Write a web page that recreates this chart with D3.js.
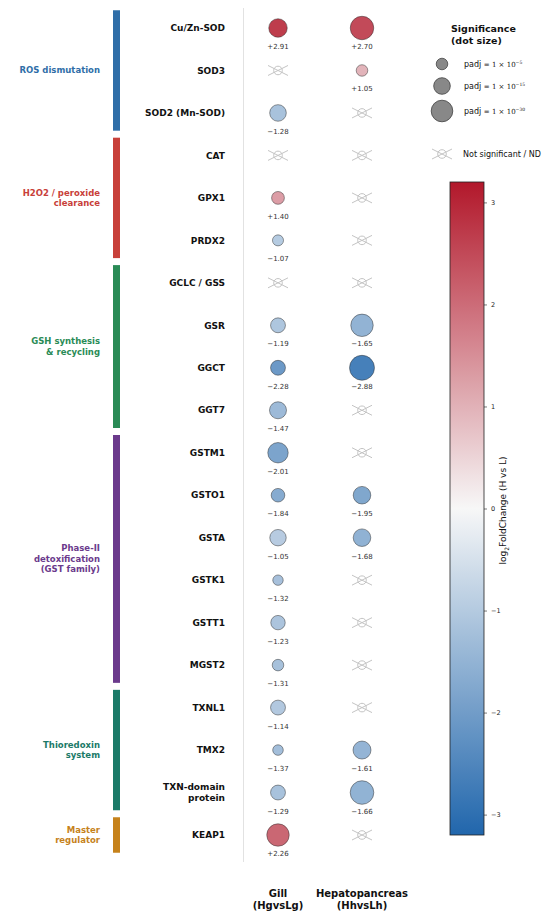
<!DOCTYPE html>
<html>
<head>
<meta charset="utf-8">
<script src="https://cdn.jsdelivr.net/npm/d3@7"></script>
<style>
body { margin: 0; background: #fff; }
svg { display: block; font-family: "DejaVu Sans", sans-serif; }
</style>
</head>
<body>
<svg id="chart" width="550" height="921"></svg>
<script>
// genes, top to bottom
var genes = ["Cu/Zn-SOD", "SOD3", "SOD2 (Mn-SOD)", "CAT", "GPX1", "PRDX2",
	"GCLC / GSS", "GSR", "GGCT", "GGT7", "GSTM1", "GSTO1", "GSTA", "GSTK1",
	"GSTT1", "MGST2", "TXNL1", "TMX2", "TXN-domain protein", "KEAP1"];

// log2 fold change (null = not significant / ND)
var gillLFC = [2.91, null, -1.28, null, 1.40, -1.07, null, -1.19, -2.28, -1.47,
	-2.01, -1.84, -1.05, -1.32, -1.23, -1.31, -1.14, -1.37, -1.29, 2.26];
var hepLFC = [2.70, 1.05, null, null, null, null, null, -1.65, -2.88, null,
	null, -1.95, -1.68, null, null, null, null, -1.61, -1.66, null];

// -log10(padj)
var gillSig = [20, null, 15, null, 7, 4.3, null, 11, 11, 16,
	26, 8.4, 14.5, 3.5, 10, 5, 11, 3.7, 11, 33];
var hepSig = [37, 5, null, null, null, null, null, 33, 43, null,
	null, 17.5, 17.5, null, null, null, null, 18.6, 37.5, null];

var columns = ["Gill", "Hepatopancreas"];
var columnSub = ["(HgvsLg)", "(HhvsLh)"];

// functional groups
var groupNames = [["ROS dismutation"], ["H2O2 / peroxide", "clearance"],
	["GSH synthesis", "& recycling"], ["Phase-II", "detoxification", "(GST family)"],
	["Thioredoxin", "system"], ["Master", "regulator"]];
var groupFirst = [0, 3, 6, 10, 16, 19];
var groupLast = [2, 5, 9, 15, 18, 19];
var groupColors = ["#2f6ea8", "#c8403a", "#2a8b56", "#6b3a8c", "#1b7a68", "#c6821b"];

var legendSig = [5, 15, 30];
var legendExp = ["−5", "−15", "−30"];
var cbTicks = [-3, -2, -1, 0, 1, 2, 3];

var svg = d3.select("#chart");

// scales
var y = d3.scalePoint().domain(genes).range([28, 835]);
var step = y.step();
var x = d3.scalePoint().domain(columns).range([278, 362]);
var color = d3.scaleLinear().domain([-3.2, 0, 3.2]).range(["#2166ac", "#f7f7f7", "#b2182b"]);
var size = d3.scaleSqrt().domain([0, 30]).range([2.3, 10.8]);

function fmt(v) {
	return (v > 0 ? "+" : "\u2212") + Math.abs(v).toFixed(2);
}

// separator line
svg.append("line")
	.attr("x1", 243.5).attr("x2", 243.5)
	.attr("y1", 8).attr("y2", 862)
	.attr("stroke", "#e2e2e2")
	.attr("stroke-width", 1);

// group bars and labels
var grp = svg.append("g")
	.selectAll("g")
	.data(groupNames)
	.enter()
	.append("g");

grp.append("rect")
	.attr("x", 113)
	.attr("width", 7)
	.attr("y", function(d, i) { return y(genes[groupFirst[i]]) - step / 2 + 3.5; })
	.attr("height", function(d, i) { return y(genes[groupLast[i]]) - y(genes[groupFirst[i]]) + step - 7; })
	.attr("fill", function(d, i) { return groupColors[i]; });

grp.append("text")
	.attr("text-anchor", "end")
	.attr("font-size", 8.5)
	.attr("font-weight", "bold")
	.attr("fill", function(d, i) { return groupColors[i]; })
	.each(function(d, i) {
		var mid = (y(genes[groupFirst[i]]) + y(genes[groupLast[i]])) / 2;
		var t = d3.select(this);
		d.forEach(function(line, j) {
			t.append("tspan")
				.attr("x", 100)
				.attr("y", mid + (j - (d.length - 1) / 2) * 10.5 + 3)
				.text(line);
		});
	});

// gene labels
svg.append("g")
	.selectAll("text")
	.data(genes)
	.enter()
	.append("text")
	.attr("text-anchor", "end")
	.attr("font-size", 9)
	.attr("font-weight", "bold")
	.attr("fill", "#111")
	.each(function(d) {
		var t = d3.select(this);
		var lines = d == "TXN-domain protein" ? ["TXN-domain", "protein"] : [d];
		lines.forEach(function(line, j) {
			t.append("tspan")
				.attr("x", 225)
				.attr("y", y(d) + (j - (lines.length - 1) / 2) * 11 + 3.2)
				.text(line);
		});
	});

// non significant glyph
function ndGlyph(g, cx, cy) {
	var c = "#c4c4c4";
	g.append("line").attr("x1", cx - 10).attr("y1", cy - 5).attr("x2", cx + 10).attr("y2", cy + 5)
		.attr("stroke", c).attr("stroke-width", 1);
	g.append("line").attr("x1", cx - 10).attr("y1", cy + 5).attr("x2", cx + 10).attr("y2", cy - 5)
		.attr("stroke", c).attr("stroke-width", 1);
	g.append("circle").attr("cx", cx).attr("cy", cy).attr("r", 4.3)
		.attr("fill", "none").attr("stroke", c).attr("stroke-width", 1);
}

// dots
var series = [{lfc: gillLFC, sig: gillSig}, {lfc: hepLFC, sig: hepSig}];
series.forEach(function(s, k) {
	var cx = x(columns[k]);
	var g = svg.append("g");
	genes.forEach(function(gene, i) {
		var v = s.lfc[i];
		if (v === null) {
			ndGlyph(g, cx, y(gene));
			return;
		}
		g.append("circle")
			.attr("cx", cx)
			.attr("cy", y(gene))
			.attr("r", size(s.sig[i]))
			.attr("fill", color(v))
			.attr("fill-opacity", 0.92)
			.attr("stroke", "#2a2a2a")
			.attr("stroke-opacity", 0.6)
			.attr("stroke-width", 0.8);
		g.append("text")
			.attr("x", cx)
			.attr("y", y(gene) + 21)
			.attr("text-anchor", "middle")
			.attr("font-size", 7)
			.attr("fill", "#333")
			.text(fmt(v));
	});
});

// column headers
svg.append("g")
	.selectAll("text")
	.data(columns)
	.enter()
	.append("text")
	.attr("text-anchor", "middle")
	.attr("font-size", 10)
	.attr("font-weight", "bold")
	.attr("fill", "#111")
	.each(function(d, i) {
		var t = d3.select(this);
		t.append("tspan").attr("x", x(d)).attr("y", 897).text(d);
		t.append("tspan").attr("x", x(d)).attr("y", 909).text(columnSub[i]);
	});

// size legend
var leg = svg.append("g");
leg.append("text")
	.attr("font-size", 9.5)
	.attr("font-weight", "bold")
	.attr("fill", "#111")
	.selectAll("tspan")
	.data(["Significance", "(dot size)"])
	.enter()
	.append("tspan")
	.attr("x", 451)
	.attr("y", function(d, i) { return 32 + i * 11.5; })
	.text(function(d) { return d; });

var legY = [64, 86, 111];
legendSig.forEach(function(p, i) {
	leg.append("circle")
		.attr("cx", 442)
		.attr("cy", legY[i])
		.attr("r", size(p))
		.attr("fill", "#888")
		.attr("stroke", "#444")
		.attr("stroke-width", 0.8);
	var t = leg.append("text")
		.attr("x", 464)
		.attr("y", legY[i] + 3)
		.attr("font-size", 8)
		.attr("fill", "#111");
	t.append("tspan").text("padj ");
	t.append("tspan").attr("font-family", "DejaVu Serif, serif").attr("font-size", 7).text("= 1 \u00d7 10");
	t.append("tspan").attr("font-family", "DejaVu Serif, serif").attr("font-size", 4.5).attr("dy", -3).text(legendExp[i]);
});
ndGlyph(leg, 442, 154);
leg.append("text")
	.attr("x", 463)
	.attr("y", 157)
	.attr("font-size", 8)
	.attr("fill", "#111")
	.text("Not significant / ND");

// colour bar
var cbX = 450, cbW = 34;
var cbScale = d3.scaleLinear().domain([-3.2, 3.2]).range([835, 182]);
var grad = svg.append("defs")
	.append("linearGradient")
	.attr("id", "cbgrad")
	.attr("x1", 0).attr("y1", 1).attr("x2", 0).attr("y2", 0);
grad.selectAll("stop")
	.data(d3.range(0, 1.0001, 0.05))
	.enter()
	.append("stop")
	.attr("offset", function(d) { return d; })
	.attr("stop-color", function(d) { return color(-3.2 + 6.4 * d); });

svg.append("rect")
	.attr("x", cbX)
	.attr("y", cbScale(3.2))
	.attr("width", cbW)
	.attr("height", cbScale(-3.2) - cbScale(3.2))
	.attr("fill", "url(#cbgrad)")
	.attr("stroke", "#222")
	.attr("stroke-width", 0.8);

var cbAxis = svg.append("g")
	.attr("transform", "translate(" + (cbX + cbW) + ",0)")
	.call(d3.axisRight(cbScale)
		.tickValues(cbTicks)
		.tickSize(3)
		.tickPadding(4)
		.tickFormat(function(d) { return d < 0 ? "\u2212" + Math.abs(d) : d; }));
cbAxis.select(".domain").remove();
cbAxis.selectAll("text")
	.attr("font-size", 6.5)
	.attr("font-family", "DejaVu Sans, sans-serif")
	.attr("fill", "#222");
cbAxis.selectAll("line").attr("stroke", "#222").attr("stroke-width", 0.6);

// label reads bottom to top
var cbLabel = svg.append("text")
	.attr("transform", "translate(506," + (cbScale(0) + 2) + ") rotate(-90)")
	.attr("text-anchor", "middle")
	.attr("font-size", 9)
	.attr("fill", "#111");
cbLabel.append("tspan").text("log");
cbLabel.append("tspan").attr("font-size", 6).attr("dy", 2.5).text("2");
cbLabel.append("tspan").attr("dy", -2.5).text("FoldChange (H vs L)");
</script>
</body>
</html>
